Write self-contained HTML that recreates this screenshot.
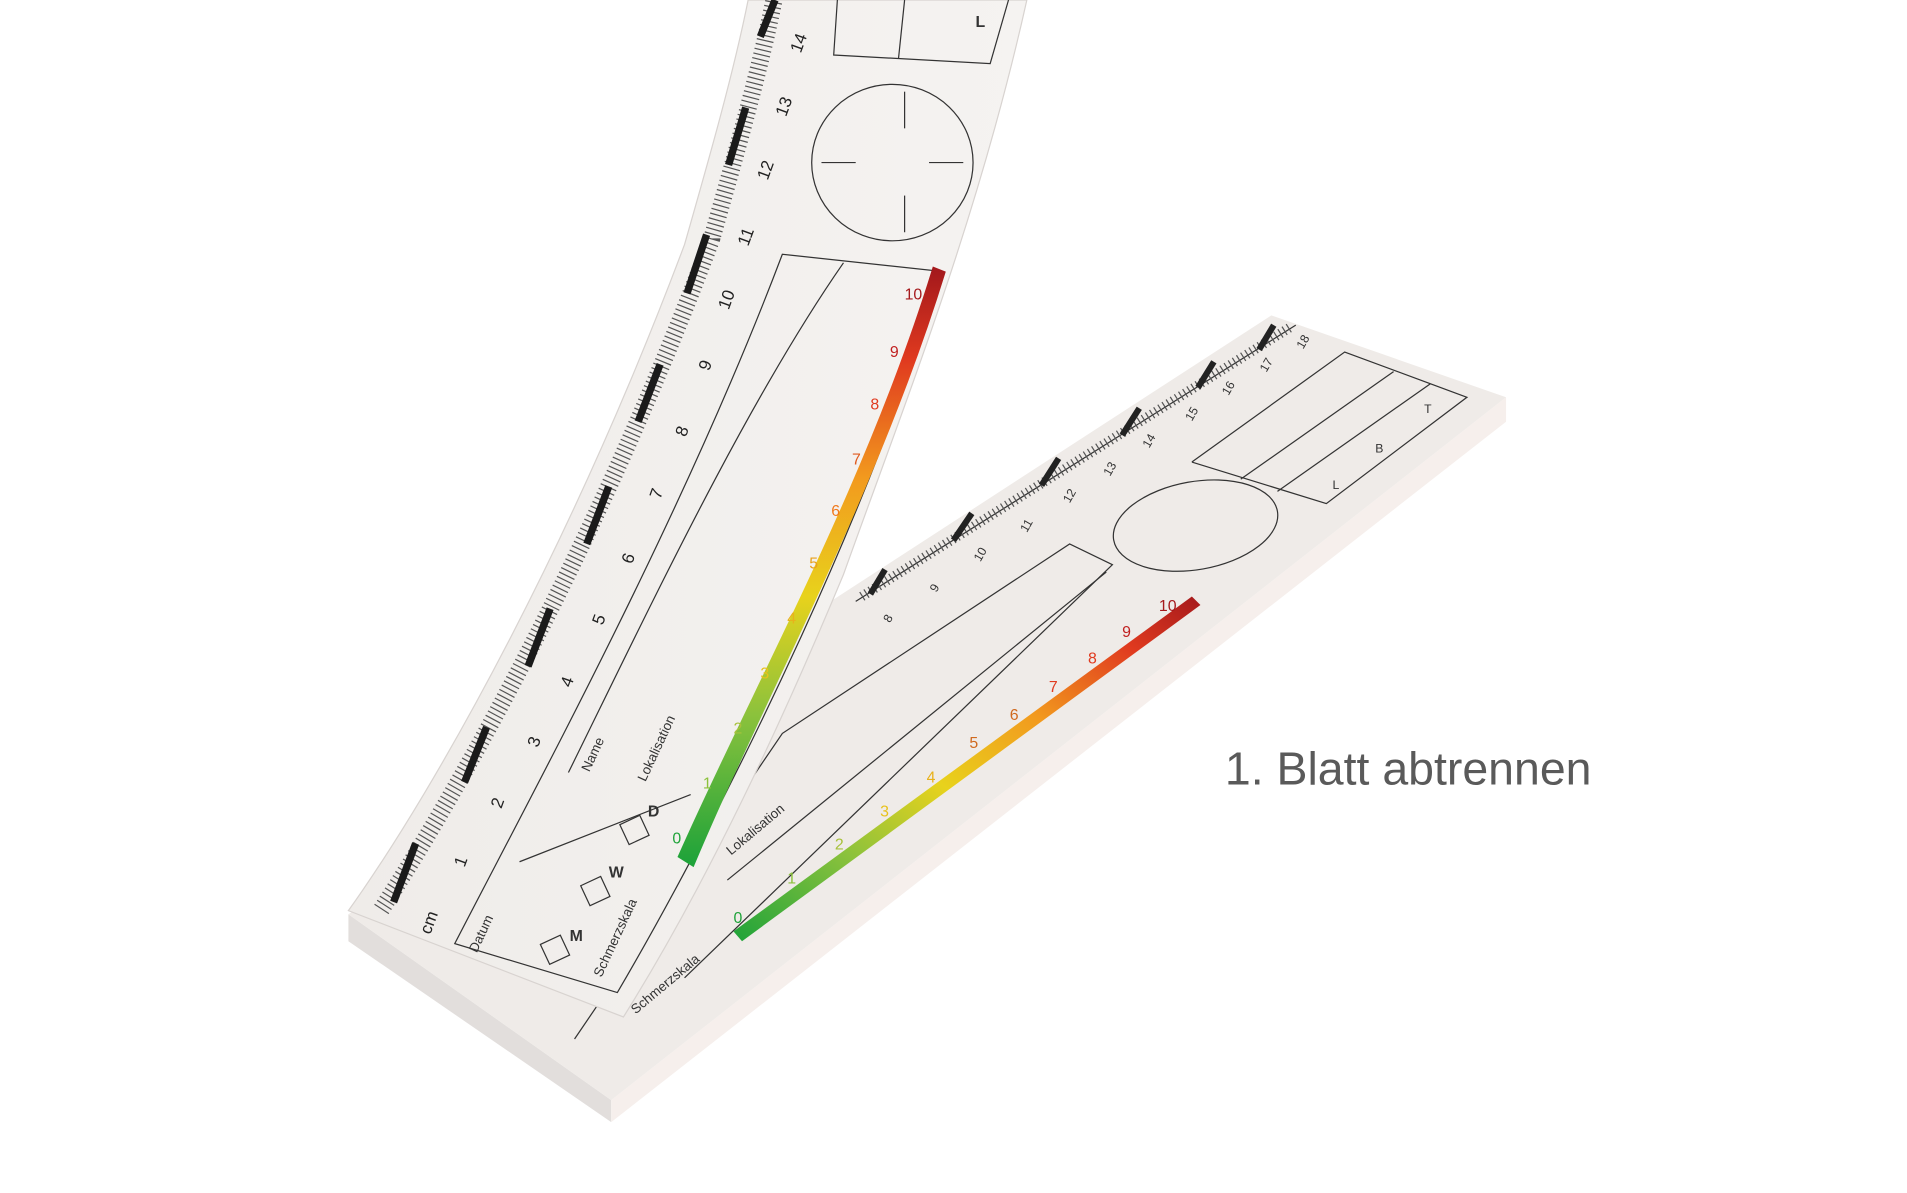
<!DOCTYPE html>
<html><head><meta charset="utf-8"><style>
html,body{margin:0;padding:0;background:#fff;overflow:hidden;width:1907px;height:1193px}
svg{display:block}
</style></head><body>
<svg width="1907" height="1193" viewBox="0 0 1560 976" preserveAspectRatio="none" xmlns="http://www.w3.org/2000/svg" font-family="Liberation Sans, sans-serif">
<defs>
<linearGradient id="g1" x1="0" y1="0" x2="1" y2="0">
<stop offset="0" stop-color="#efece9"/><stop offset="1" stop-color="#f5f3f1"/></linearGradient>
<linearGradient id="sc" x1="0" y1="1" x2="0" y2="0">
<stop offset="0" stop-color="#1fa33a"/><stop offset="0.25" stop-color="#8cc23c"/><stop offset="0.45" stop-color="#e8d21c"/><stop offset="0.65" stop-color="#f29a1e"/><stop offset="0.85" stop-color="#e03a1f"/><stop offset="1" stop-color="#a5191c"/></linearGradient>
<linearGradient id="sc2" x1="0" y1="1" x2="1" y2="0">
<stop offset="0" stop-color="#1fa33a"/><stop offset="0.25" stop-color="#8cc23c"/><stop offset="0.45" stop-color="#e8d21c"/><stop offset="0.65" stop-color="#f29a1e"/><stop offset="0.85" stop-color="#e03a1f"/><stop offset="1" stop-color="#a5191c"/></linearGradient>
</defs>
<!-- pad -->
<polygon points="285,748 500,900 500,918 285,770" fill="#e2dedc"/>
<polygon points="500,900 1232,325 1232,345 500,918" fill="#f6efec"/>
<polygon points="285,748 1040,258 1232,325 500,900" fill="#efebe8"/>
<!-- pad ruler -->
<line x1="700" y1="492" x2="1060" y2="266" stroke="#333" stroke-width="1"/>
<path d="M705,488 L1055,268" stroke="#555" stroke-width="8" stroke-dasharray="1 3" fill="none"/>
<g stroke="#222" stroke-width="5">
<line x1="712" y1="486" x2="724" y2="466"/>
<line x1="780" y1="442" x2="795" y2="420"/>
<line x1="852" y1="397" x2="866" y2="375"/>
<line x1="918" y1="356" x2="932" y2="334"/>
<line x1="980" y1="317" x2="993" y2="296"/>
<line x1="1030" y1="286" x2="1042" y2="266"/>
</g>
<g font-size="10" fill="#333">
<text x="728" y="510" transform="rotate(-60 728 510)">8</text>
<text x="766" y="485" transform="rotate(-60 766 485)">9</text>
<text x="802" y="460" transform="rotate(-60 802 460)">10</text>
<text x="840" y="436" transform="rotate(-60 840 436)">11</text>
<text x="875" y="412" transform="rotate(-60 875 412)">12</text>
<text x="908" y="390" transform="rotate(-60 908 390)">13</text>
<text x="940" y="367" transform="rotate(-60 940 367)">14</text>
<text x="975" y="345" transform="rotate(-60 975 345)">15</text>
<text x="1005" y="324" transform="rotate(-60 1005 324)">16</text>
<text x="1036" y="305" transform="rotate(-60 1036 305)">17</text>
<text x="1066" y="286" transform="rotate(-60 1066 286)">18</text>
</g>
<g stroke="#333" stroke-width="1" fill="none">
<polyline points="975,378 1100,288 1200,325 1085,412 975,378"/>
<line x1="1015" y1="392" x2="1140" y2="304"/>
<line x1="1045" y1="402" x2="1170" y2="314"/>
<ellipse cx="978" cy="430" rx="68" ry="36" transform="rotate(-10 978 430)"/>
<polyline points="470,850 640,600 875,445 910,462 560,800"/>
<line x1="595" y1="720" x2="905" y2="468"/>
</g>
<g font-size="10" fill="#333"><text x="1090" y="400">L</text><text x="1125" y="370">B</text><text x="1165" y="338">T</text></g>
<polygon points="600,762 975,488 982,495 607,770" fill="url(#sc2)"/>
<g font-size="13" fill="#d0691e">
<text x="600" y="755" fill="#1fa33a">0</text><text x="644" y="723" fill="#8cc23c">1</text><text x="683" y="695" fill="#a8c23c">2</text><text x="720" y="668" fill="#e8c21c">3</text><text x="758" y="640" fill="#e8b21c">4</text><text x="793" y="612">5</text><text x="826" y="589">6</text><text x="858" y="566" fill="#e03a1f">7</text><text x="890" y="543" fill="#e03a1f">8</text><text x="918" y="521" fill="#c02020">9</text><text x="948" y="500" fill="#a5191c">10</text>
</g>
<text x="598" y="700" font-size="11" fill="#333" transform="rotate(-40 598 700)">Lokalisation</text>
<text x="520" y="830" font-size="11" fill="#333" transform="rotate(-40 520 830)">Schmerzskala</text>
<!-- curled sheet -->
<path d="M285,745 C360,640 470,440 560,200 C580,130 600,60 612,0 L840,0 C800,180 740,330 690,470 C640,590 580,720 510,832 Z" fill="url(#g1)" stroke="#d8d3d0" stroke-width="1"/>
<path d="M290,748 C360,640 470,440 560,200 C580,130 600,60 612,0" stroke="#555" stroke-width="14" stroke-dasharray="1 3" fill="none" transform="translate(22,-4)"/>
<g stroke="#1a1a1a" stroke-width="6">
<line x1="322" y1="738" x2="340" y2="690"/>
<line x1="380" y1="640" x2="398" y2="595"/>
<line x1="432" y1="545" x2="450" y2="498"/>
<line x1="480" y1="445" x2="498" y2="398"/>
<line x1="522" y1="345" x2="540" y2="298"/>
<line x1="562" y1="240" x2="578" y2="192"/>
<line x1="596" y1="135" x2="610" y2="88"/>
<line x1="622" y1="30" x2="634" y2="0"/>
</g>
<g font-size="14" fill="#222">
<text x="380" y="710" transform="rotate(-70 380 710)">1</text>
<text x="410" y="662" transform="rotate(-70 410 662)">2</text>
<text x="440" y="612" transform="rotate(-70 440 612)">3</text>
<text x="467" y="563" transform="rotate(-70 467 563)">4</text>
<text x="493" y="512" transform="rotate(-70 493 512)">5</text>
<text x="517" y="462" transform="rotate(-70 517 462)">6</text>
<text x="540" y="409" transform="rotate(-70 540 409)">7</text>
<text x="561" y="358" transform="rotate(-70 561 358)">8</text>
<text x="580" y="304" transform="rotate(-70 580 304)">9</text>
<text x="596" y="254" transform="rotate(-70 596 254)">10</text>
<text x="612" y="202" transform="rotate(-70 612 202)">11</text>
<text x="628" y="148" transform="rotate(-70 628 148)">12</text>
<text x="643" y="96" transform="rotate(-70 643 96)">13</text>
<text x="655" y="44" transform="rotate(-70 655 44)">14</text>
<text x="352" y="765" transform="rotate(-70 352 765)">cm</text>
</g>
<g stroke="#333" stroke-width="1" fill="none">
<ellipse cx="730" cy="133" rx="66" ry="64"/>
<line x1="740" y1="75" x2="740" y2="105"/><line x1="740" y1="160" x2="740" y2="190"/>
<line x1="672" y1="133" x2="700" y2="133"/><line x1="760" y1="133" x2="788" y2="133"/>
<path d="M372,772 C440,640 560,420 640,208 L770,222 C720,400 600,650 505,812 Z"/>
<path d="M465,632 C530,500 610,330 690,215"/>
<path d="M425,705 L565,650"/>
<path d="M685,0 L682,45 L810,52 L825,0"/>
<line x1="740" y1="0" x2="735" y2="48"/>
<rect x="445" y="768" width="18" height="18" transform="rotate(-25 454 777)"/>
<rect x="478" y="720" width="18" height="18" transform="rotate(-25 487 729)"/>
<rect x="510" y="670" width="18" height="18" transform="rotate(-25 519 679)"/>
</g>
<path d="M558,700 C620,560 710,400 765,222 L770,224 C715,402 625,565 566,705 Z" fill="url(#sc)" stroke="url(#sc)" stroke-width="6"/>
<g font-size="13">
<text x="550" y="690" fill="#1fa33a">0</text><text x="575" y="645" fill="#8cc23c">1</text><text x="600" y="600" fill="#a8c23c">2</text><text x="622" y="555" fill="#e8c21c">3</text><text x="644" y="510" fill="#e8b21c">4</text><text x="662" y="465" fill="#e8a21c">5</text><text x="680" y="422" fill="#f07a1e">6</text><text x="697" y="380" fill="#e05a1f">7</text><text x="712" y="335" fill="#e03a1f">8</text><text x="728" y="292" fill="#c02020">9</text><text x="740" y="245" fill="#a5191c">10</text>
</g>
<g font-size="11" fill="#333">
<text x="390" y="780" transform="rotate(-65 390 780)">Datum</text>
<text x="482" y="632" transform="rotate(-65 482 632)">Name</text>
<text x="528" y="640" transform="rotate(-65 528 640)">Lokalisation</text>
<text x="492" y="800" transform="rotate(-65 492 800)">Schmerzskala</text>
<text x="466" y="770" font-size="13" font-weight="bold">M</text>
<text x="498" y="718" font-size="13" font-weight="bold">W</text>
<text x="530" y="668" font-size="13" font-weight="bold">D</text>
<text x="798" y="22" font-size="13" font-weight="bold">L</text>
</g>
<text x="1002" y="642" font-size="38" fill="#5a5a5a">1. Blatt abtrennen</text>
</svg>
</body></html>
